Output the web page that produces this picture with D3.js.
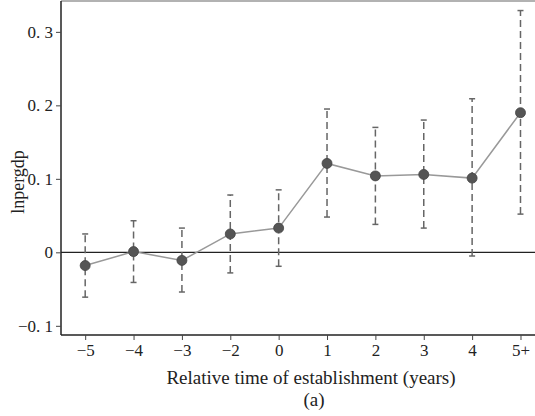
<!DOCTYPE html>
<meta charset="utf-8">
<style>
    body { margin: 0; background: #fff; }
    text { font-family: "Liberation Serif", "DejaVu Serif", serif; fill: #222; }
</style>
<body>
<div id="chart"></div>
<script src="https://cdn.jsdelivr.net/npm/d3@7"></script>
<script>
    var width = 535,
        height = 416

    // relative time categories
    var periods = ["-5", "-4", "-3", "-2", "0", "1", "2", "3", "4", "5+"]
    var coef = [-0.018, 0.001, -0.011, 0.025, 0.033, 0.121, 0.104, 0.106, 0.101, 0.190]
    var ciLow = [-0.061, -0.041, -0.054, -0.028, -0.019, 0.048, 0.038, 0.033, -0.005, 0.052]
    var ciHigh = [0.025, 0.043, 0.033, 0.078, 0.085, 0.195, 0.170, 0.180, 0.209, 0.329]
    var yTicks = [-0.1, 0, 0.1, 0.2, 0.3]

    var padL = 61, padR = 535, padT = 1, padB = 335

    var svg = d3.select('#chart').append("svg")
        .attr("width", width)
        .attr("height", height);

    var x = d3.scaleLinear()
        .domain([-0.5, periods.length - 0.7])
        .range([padL, padR])

    var y = d3.scaleLinear()
        .domain([-0.1125, 0.342])
        .range([padB, padT])

    var fmt = function (v) {
        if (v == 0) return "0"
        var s = d3.format(".1f")(Math.abs(v)).replace(".", ". ")
        return (v < 0 ? "\u2212" : "") + s
    }

    // frame
    svg.append("line")
        .attr("x1", padL).attr("x2", padR)
        .attr("y1", padT).attr("y2", padT)
        .attr("stroke", "#999").attr("stroke-width", 1.5)

    // zero line
    svg.append("line")
        .attr("x1", padL).attr("x2", padR)
        .attr("y1", y(0)).attr("y2", y(0))
        .attr("stroke", "#222").attr("stroke-width", 1.2)

    var yAxis = svg.append("g")
        .attr("transform", "translate(" + padL + ",0)")
        .call(d3.axisLeft(y).tickValues(yTicks).tickFormat(fmt).tickSize(5).tickPadding(3))
    yAxis.select(".domain").attr("stroke", "#222").attr("stroke-width", 1.5)
        .attr("d", "M0," + padT + "V" + padB)
    yAxis.selectAll(".tick line").attr("stroke", "#444")
    yAxis.selectAll("text").style("font-size", "17px").attr("fill", "#333")

    var xAxis = svg.append("g")
        .attr("transform", "translate(0," + padB + ")")
        .call(d3.axisBottom(x).tickValues(d3.range(periods.length))
            .tickFormat(function (i) { return periods[i].replace("-", "\u2212") })
            .tickSize(5).tickPadding(4))
    xAxis.select(".domain").attr("stroke", "#222").attr("stroke-width", 1.5)
        .attr("d", "M" + padL + ",0H" + padR)
    xAxis.selectAll(".tick line").attr("stroke", "#444")
    xAxis.selectAll("text").style("font-size", "17px").attr("fill", "#333")

    // error bars
    var bars = svg.selectAll(".ci")
        .data(periods)
        .enter().append("g")
        .attr("class", "ci")

    bars.append("line")
        .attr("x1", function (d, i) { return x(i) })
        .attr("x2", function (d, i) { return x(i) })
        .attr("y1", function (d, i) { return y(ciLow[i]) })
        .attr("y2", function (d, i) { return y(ciHigh[i]) })
        .attr("stroke", "#666")
        .attr("stroke-width", 1.5)
        .attr("stroke-dasharray", "7,4")

    bars.selectAll(".cap")
        .data(function (d, i) { return [[i, ciLow[i]], [i, ciHigh[i]]] })
        .enter().append("line")
        .attr("x1", function (d) { return x(d[0]) - 3 })
        .attr("x2", function (d) { return x(d[0]) + 3 })
        .attr("y1", function (d) { return y(d[1]) })
        .attr("y2", function (d) { return y(d[1]) })
        .attr("stroke", "#666")
        .attr("stroke-width", 1.5)

    var line = d3.line()
        .x(function (d, i) { return x(i) })
        .y(function (d) { return y(d) })

    svg.append("path")
        .datum(coef)
        .attr("d", line)
        .attr("fill", "none")
        .attr("stroke", "#999")
        .attr("stroke-width", 1.5)

    svg.selectAll(".pt")
        .data(coef)
        .enter().append("circle")
        .attr("class", "pt")
        .attr("cx", function (d, i) { return x(i) })
        .attr("cy", function (d) { return y(d) })
        .attr("r", 5)
        .attr("fill", "#555")
        .attr("stroke", "#444")
        .attr("stroke-width", 0.8)

    svg.append("text")
        .attr("transform", "translate(24," + ((padT + padB) / 2 + 14) + ") rotate(-90)")
        .attr("text-anchor", "middle")
        .style("font-size", "18px")
        .text("lnpergdp")

    svg.append("text")
        .attr("x", 311)
        .attr("y", 384)
        .attr("text-anchor", "middle")
        .style("font-size", "19px")
        .text("Relative time of establishment (years)")

    svg.append("text")
        .attr("x", 314)
        .attr("y", 406)
        .attr("text-anchor", "middle")
        .style("font-size", "19px")
        .text("(a)")
</script>
</body>
